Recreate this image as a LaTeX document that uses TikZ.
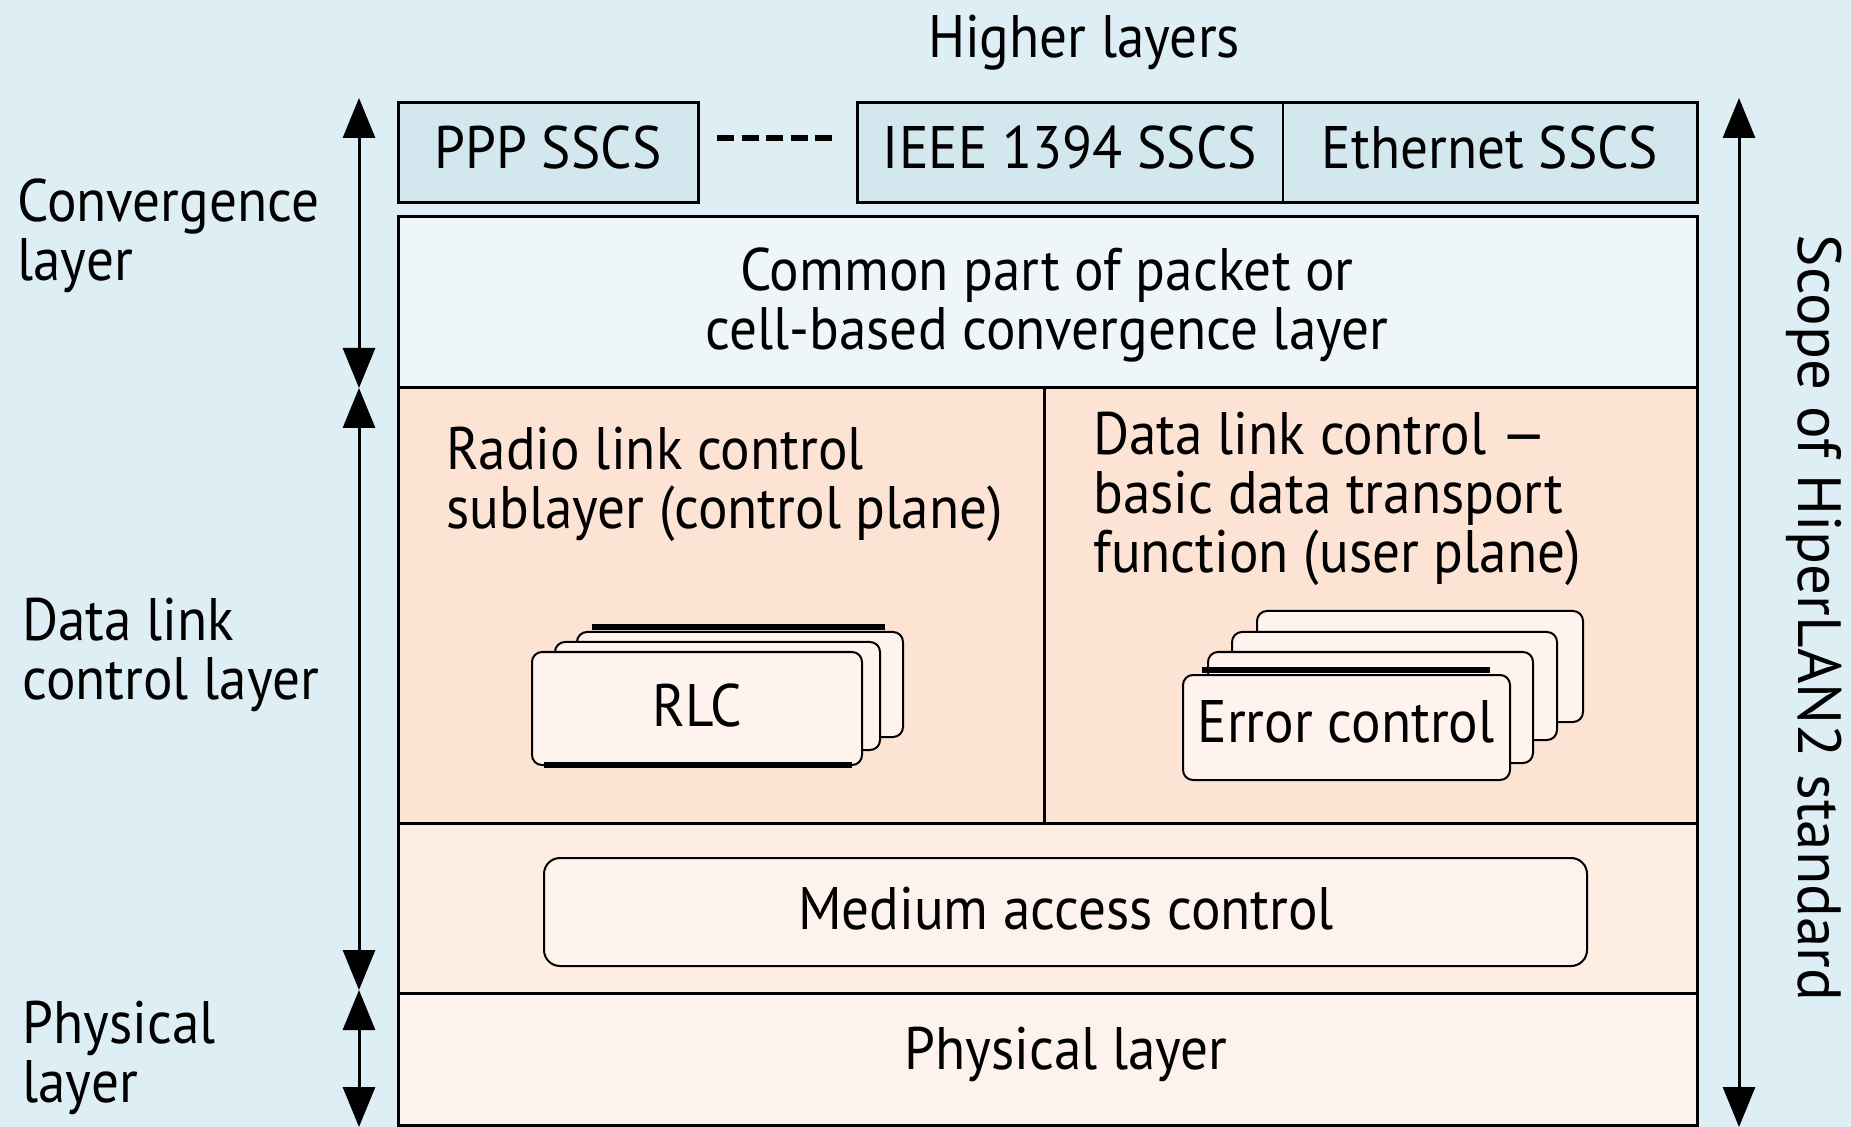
\documentclass[tikz,border=0pt]{standalone}
\usepackage{fontspec}
\setmainfont{PT Sans}[FakeStretch=0.92]
\newfontfamily\widesans{PT Sans}
\usetikzlibrary{arrows.meta}

\definecolor{bgblue}{HTML}{DDEEF5}
\definecolor{sscsblue}{HTML}{D2E7EE}
\definecolor{commonblue}{HTML}{EEF6F9}
\definecolor{dlcpeach}{HTML}{FDE3D3}
\definecolor{macpeach}{HTML}{FEEDE3}
\definecolor{physpeach}{HTML}{FEF3EC}
\definecolor{cardfill}{HTML}{FEF3ED}

\tikzset{
  frame/.style={draw=black, line width=1.5pt},
  thinframe/.style={draw=black, line width=1pt},
  card/.style={draw=black, line width=1pt, fill=cardfill, rounded corners=5pt},
  shade/.style={draw=black, line width=3pt},
  lbl/.style={font=\fontsize{30}{29.5}\selectfont, inner sep=0pt},
  scopearrow/.style={line width=1.5pt, {Triangle[width=16pt,length=20pt]}-{Triangle[width=16pt,length=20pt]}}
}

\begin{document}
\begin{tikzpicture}[x=0.5pt,y=-0.5pt]
  % canvas
  \fill[bgblue] (0,0) rectangle (1851,1127);
  \useasboundingbox (0,0) rectangle (1851,1127);

  % stacked layers
  \draw[frame, fill=dlcpeach] (398,388) rectangle (1697,823);
  \draw[frame] (1044,388) -- (1044,823);
  \draw[frame, fill=macpeach] (398,823) rectangle (1697,993);
  \draw[frame, fill=physpeach] (398,993) rectangle (1697,1125);
  \draw[frame, fill=commonblue] (398,217) rectangle (1697,388);
  \draw[frame, fill=sscsblue] (398,103) rectangle (698,203);
  \draw[frame, fill=sscsblue] (857,103) rectangle (1697,203);
  \draw[thinframe] (1283,103) -- (1283,203);

  % ellipsis between the SSCS boxes
  \coordinate (dashA) at (717,138);
  \coordinate (dashB) at (832,138);
  \draw[line width=2.6pt, dash pattern=on 8.5pt off 3.75pt] (dashA) -- (dashB);

  % RLC card stack
  \draw[card] (577,632) rectangle (903,737);
  \draw[shade] (592,627) -- (885,627);
  \draw[card] (555,642) rectangle (880,750);
  \draw[card] (532,652) rectangle (862,765);
  \draw[shade] (544,765) -- (852,765);

  % error control card stack
  \draw[card] (1257,611) rectangle (1583,722);
  \draw[card] (1232,632) rectangle (1557,740);
  \draw[card] (1208,652) rectangle (1533,763);
  \draw[shade] (1202,670) -- (1490,670);
  \draw[card] (1183,675) rectangle (1510,780);

  % medium access control
  \draw[card, fill=physpeach, rounded corners=8pt] (544,858) rectangle (1587,966);

  % texts
  \node[lbl] (higher) at (1084,43) {Higher layers};
  \node[lbl] (ppp) at (548,148) {PPP SSCS};
  \node[lbl] (ieee) at (1070,148) {IEEE 1394 SSCS};
  \node[lbl] (eth) at (1490,148) {Ethernet SSCS};
  \node[lbl, align=center] (common) at (1047,305) {Common part of packet or\\cell-based convergence layer};
  \node[lbl, align=left, anchor=west] (rlcsub) at (446,484) {Radio link control\\sublayer (control plane)};
  \node[lbl, align=left, anchor=west] (dlcbasic) at (1093,499) {Data link control —\\basic data transport\\function (user plane)};
  \node[lbl] (rlc) at (697,705) {RLC};
  \node[lbl] (errctl) at (1346,722) {Error control};
  \node[lbl] (mac) at (1066,909) {Medium access control};
  \node[lbl] (phy) at (1066,1054) {Physical layer};

  \node[lbl, align=left, anchor=west] (convlbl) at (17,236) {Convergence\\layer};
  \node[lbl, align=left, anchor=west] (dlclbl) at (22,655) {Data link\\control layer};
  \node[lbl, align=left, anchor=west] (phylbl) at (22,1058) {Physical\\layer};
  \node[lbl, font=\widesans\fontsize{30.5}{30}\selectfont, rotate=-90] (scope) at (1814,618) {Scope of HiperLAN2 standard};

  % extent arrows
  \coordinate (convTop) at (359,98);
  \coordinate (convBot) at (359,388);
  \coordinate (dlcTop) at (359,388);
  \coordinate (dlcBot) at (359,990);
  \coordinate (phyTop) at (359,990);
  \coordinate (phyBot) at (359,1127);
  \coordinate (scopeTop) at (1739,98);
  \coordinate (scopeBot) at (1739,1127);
  \draw[scopearrow] (convTop) -- (convBot);
  \draw[scopearrow] (dlcTop) -- (dlcBot);
  \draw[scopearrow] (phyTop) -- (phyBot);
  \draw[scopearrow] (scopeTop) -- (scopeBot);
\end{tikzpicture}
\end{document}
